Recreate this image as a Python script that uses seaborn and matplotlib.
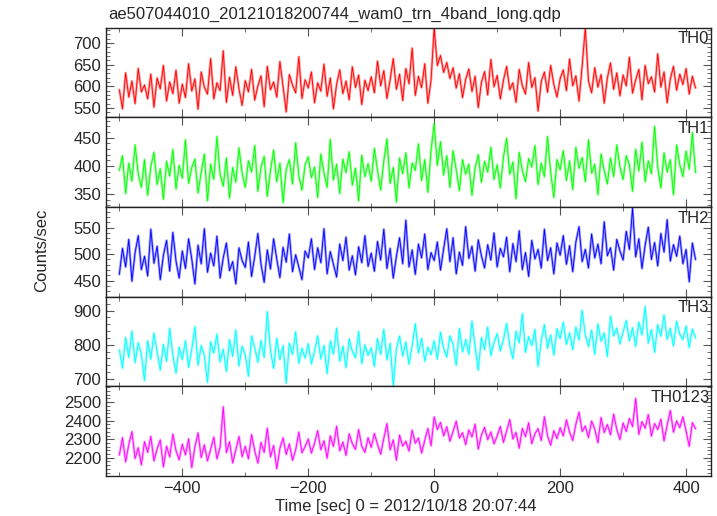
import numpy as np
import pandas as pd
import matplotlib
matplotlib.use('Agg')
import matplotlib.pyplot as plt
from matplotlib.ticker import MultipleLocator
import seaborn as sns

# 5 s bins, time relative to 2012/10/18 20:07:44
time = np.arange(-500, 420, 5)

th0 = [592, 548, 631, 575, 612, 560, 641, 587, 603, 571, 628, 552, 619, 594, 648, 566, 610, 583, 637, 561,
       605, 574, 652, 589, 617, 547, 633, 598, 582, 664, 571, 608, 590, 682, 563, 621, 579, 645, 594, 556,
       613, 587, 639, 568, 601, 624, 553, 646, 592, 610, 575, 657, 598, 541, 627, 603, 585, 668, 572, 615,
       596, 633, 562, 608, 589, 651, 577, 619, 548, 604, 638, 583, 612, 569, 645, 597, 626, 558, 614, 590,
       622, 585, 658, 601, 636, 572, 615, 664, 593, 628, 567, 641, 606, 688, 579, 623, 597, 652, 561, 614,
       735, 648, 671, 632, 655, 618, 643, 596, 629, 574, 616, 640, 588, 623, 551, 609, 634, 580, 662, 599,
       625, 571, 614, 646, 592, 608, 563, 639, 601, 582, 655, 597, 620, 543, 611, 633, 586, 648, 604, 575,
       617, 638, 590, 663, 601, 624, 566, 648, 735, 612, 585, 643, 598, 627, 561, 619, 654, 593, 631, 578,
       626, 601, 667, 584, 615, 639, 569, 648, 606, 622, 587, 675, 598, 633, 562, 617, 646, 591, 628, 604,
       641, 582, 623, 596]

th1 = [392, 418, 351, 405, 373, 437, 386, 362, 411, 348, 399, 424, 367, 395, 341, 408, 382, 429, 359, 401,
       378, 446, 369, 397, 412, 352, 388, 421, 338, 403, 376, 452, 385, 364, 414, 343, 397, 371, 432, 387,
       362, 409, 389, 436, 355, 398, 417, 346, 391, 428, 372, 405, 335, 394, 411, 368, 441, 383, 357, 402,
       416, 379, 398, 344, 421, 387, 362, 447, 375, 403, 351, 412, 388, 425, 366, 396, 338, 419, 381, 404,
       373, 431, 392, 357, 409, 448, 369, 397, 336, 414, 386, 423, 361, 405, 392, 439, 374, 411, 353, 428,
       475, 401, 443, 384, 418, 362, 427, 393, 356, 411, 385, 403, 348, 396, 420, 371, 408, 389, 433, 376,
       402, 361, 416, 449, 385, 407, 342, 424, 392, 372, 413, 398, 436, 367, 405, 381, 452, 389, 344, 411,
       393, 427, 374, 409, 358, 433, 396, 415, 372, 446, 387, 403, 349, 421, 392, 368, 414, 381, 437, 398,
       376, 418, 402, 355, 429, 391, 442, 372, 409, 386, 470, 397, 361, 423, 389, 411, 349, 437, 402, 381,
       426, 394, 459, 388]

th2 = [462, 511, 476, 528, 449, 503, 535, 471, 496, 459, 547, 483, 515, 452, 498, 526, 468, 541, 487, 455,
       506, 473, 529, 491, 444, 517, 482, 548, 466, 502, 478, 534, 455, 493, 521, 469, 486, 444, 512, 488,
       475, 523, 458, 496, 539, 481, 447, 508, 472, 529, 491, 456, 513, 485, 538, 467, 499, 476, 452, 506,
       493, 529, 471, 512, 484, 548, 463, 505, 481, 457, 519, 488, 532, 470, 497, 461, 514, 484, 535, 477,
       502, 468, 524, 489, 547, 473, 511, 455, 496, 531, 482, 564, 476, 508, 462, 519, 493, 538, 471, 503,
       488, 523, 470, 510, 548, 486, 531, 463, 504, 479, 552, 492, 515, 468, 527, 497, 474, 518, 489, 540,
       476, 511, 495, 532, 467, 520, 486, 544, 471, 503, 458, 526, 491, 509, 474, 547, 488, 512, 463, 521,
       498, 535, 481, 516, 467, 523, 552, 486, 509, 474, 538, 493, 519, 482, 561, 497, 512, 470, 528, 506,
       489, 543, 509, 587, 495, 529, 473, 517, 551, 490, 522, 478, 539, 504, 565, 487, 518, 496, 534, 482,
       509, 448, 521, 490]

th3 = [785, 732, 821, 763, 840, 748, 806, 771, 695, 812, 758, 834, 779, 726, 801, 752, 848, 769, 717, 793,
       757, 812, 734, 786, 853, 741, 798, 768, 690, 809, 776, 831, 750, 787, 722, 815, 766, 843, 738, 796,
       771, 708, 826, 792, 749, 812, 763, 897, 784, 731, 819, 757, 798, 688, 805, 772, 838, 746, 790, 761,
       803, 744, 782, 826, 759, 798, 716, 811, 773, 849, 752, 796, 733, 817, 781, 762, 839, 745, 800, 769,
       791, 737, 818, 772, 845, 756, 804, 679, 788, 826, 767, 808, 743, 797, 862, 776, 819, 752, 793, 771,
       812, 758, 837, 789, 764, 826, 801, 740, 848, 779, 815, 772, 869, 794, 726, 821, 786, 852, 768, 807,
       833, 782, 815, 862, 797, 759, 840, 806, 891, 778, 824, 798, 845, 737, 812, 859, 790, 829, 770, 847,
       818, 866, 801, 835, 786, 852, 814, 901, 828, 795, 843, 772, 861, 810, 835, 766, 884, 826, 849, 803,
       838, 871, 812, 850, 795, 866, 829, 912, 805, 844, 778, 859, 825, 887, 816, 848, 797, 869, 831, 815,
       855, 792, 846, 820]

th0123 = [2215, 2308, 2178, 2271, 2341, 2196, 2254, 2162, 2287, 2229, 2315, 2183, 2248, 2296, 2151, 2262, 2205, 2327, 2238, 2189,
          2273, 2216, 2302, 2147, 2258, 2334, 2201, 2269, 2183, 2245, 2311, 2194, 2257, 2475, 2228, 2286, 2172, 2244, 2315, 2206,
          2262, 2194, 2325, 2238, 2171, 2283, 2229, 2359, 2205, 2266, 2141, 2251, 2307, 2218, 2275, 2186, 2242, 2338, 2227, 2260,
          2301, 2225, 2278, 2346, 2243, 2292, 2198, 2318, 2261, 2370, 2237, 2285, 2213, 2329, 2276, 2245, 2352, 2262, 2229, 2308,
          2256, 2331, 2272, 2219, 2305, 2384, 2243, 2296, 2187, 2322, 2263, 2289, 2236, 2348, 2278, 2307, 2225, 2294, 2358, 2265,
          2420, 2352, 2391, 2318, 2367, 2289, 2342, 2398, 2306, 2335, 2271, 2350, 2312, 2381, 2247, 2323, 2364, 2297, 2339, 2275,
          2318, 2369, 2283, 2344, 2406, 2301, 2337, 2252, 2358, 2314, 2389, 2276, 2330, 2357, 2293, 2421, 2318, 2268, 2346, 2303,
          2362, 2318, 2405, 2337, 2293, 2381, 2446, 2342, 2371, 2309, 2398, 2355, 2281, 2417, 2336, 2379, 2324, 2435, 2352, 2298,
          2387, 2341, 2412, 2368, 2520, 2326, 2395, 2359, 2433, 2317, 2384, 2352, 2408, 2291, 2376, 2455, 2338, 2399, 2362, 2421,
          2344, 2262, 2389, 2356]

bands = ['TH0', 'TH1', 'TH2', 'TH3', 'TH0123']
series = [th0, th1, th2, th3, th0123]
colors = ['#ff0000', '#00ff00', '#0000ff', '#00ffff', '#ff00ff']
ylims = [(528, 735), (327, 486), (420, 589), (679, 941), (2103, 2586)]
ymajor = [50, 50, 50, 100, 100]
yminor = [10, 10, 10, 20, 20]

sns.set_style('ticks')
plt.rcParams['font.family'] = ['Liberation Sans', 'DejaVu Sans']

fig, axes = plt.subplots(5, 1, figsize=(7.17, 5.16), dpi=100, sharex=True)
fig.subplots_adjust(left=0.148, right=0.992, top=0.946, bottom=0.078, hspace=0)

for ax, name, vals, col, yl, ma, mi in zip(axes, bands, series, colors, ylims, ymajor, yminor):
    df = pd.DataFrame({'time': time, 'rate': vals})
    # lighter underlay stands in for the error bars
    sns.lineplot(data=df, x='time', y='rate', ax=ax, color=col, lw=1.8, alpha=0.4)
    sns.lineplot(data=df, x='time', y='rate', ax=ax, color=col, lw=0.6)
    ax.set_xlim(-521, 440)
    ax.set_ylim(*yl)
    ax.set_xlabel('')
    ax.set_ylabel('')
    ax.xaxis.set_major_locator(MultipleLocator(200))
    ax.xaxis.set_minor_locator(MultipleLocator(100))
    ax.yaxis.set_major_locator(MultipleLocator(ma))
    ax.yaxis.set_minor_locator(MultipleLocator(mi))
    ax.tick_params(which='both', direction='in', top=True, right=True, labelsize=12, color='#555555')
    ax.tick_params(which='major', length=6)
    ax.tick_params(which='minor', length=3)
    for s in ax.spines.values():
        s.set_linewidth(1.0)
        s.set_color('#222222')
    ax.text(0.997, 0.96, name, transform=ax.transAxes, ha='right', va='top', fontsize=12)

fig.text(0.151, 0.973, 'ae507044010_20121018200744_wam0_trn_4band_long.qdp', ha='left', va='center', fontsize=12)
fig.text(0.058, 0.515, 'Counts/sec', rotation=90, ha='center', va='center', fontsize=12)
fig.text(0.566, 0.019, 'Time [sec] 0 = 2012/10/18 20:07:44', ha='center', va='center', fontsize=12)

plt.savefig('out.png', dpi=100)
